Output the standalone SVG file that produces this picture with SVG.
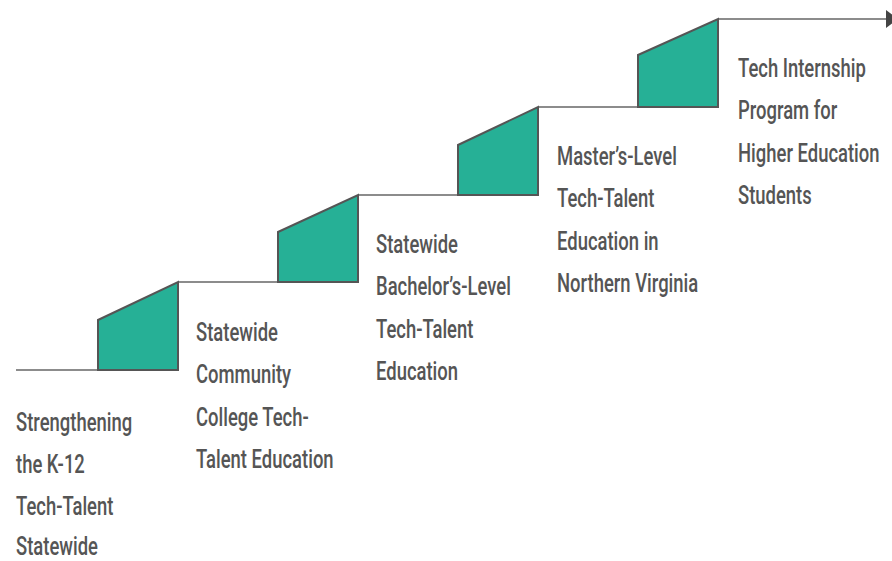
<svg xmlns="http://www.w3.org/2000/svg" width="892" height="561" viewBox="0 0 892 561">
<defs>
<style>
.step{fill:#26b096;stroke:#555;stroke-width:2;stroke-linejoin:miter}
.ln{fill:none;stroke:#666;stroke-width:1.6}
.lbl{font-family:Roboto,"Liberation Sans",sans-serif;font-size:26px;font-weight:500;fill:#555}
</style>
<marker id="arr" markerWidth="12" markerHeight="18" refX="0" refY="9" orient="auto" markerUnits="userSpaceOnUse">
<path d="M0,0 L12,9 L0,18 Z" fill="#444"/>
</marker>
</defs>
<rect width="892" height="561" fill="#fff"/>
<g id="connectors">
<path class="ln" d="M16,370 H98"/>
<path class="ln" d="M178,282 H278"/>
<path class="ln" d="M358,195 H458"/>
<path class="ln" d="M538,107 H638"/>
<path class="ln" d="M718,19 H886" marker-end="url(#arr)"/>
</g>
<g id="step1">
<polygon class="step" points="98,370 178,370 178,282 98,320"/>
<g transform="translate(16,0) scale(0.71,1)"><text class="lbl"><tspan x="0" y="431">Strengthening</tspan><tspan x="0" y="473">the K-12</tspan><tspan x="0" y="515">Tech-Talent</tspan><tspan x="0" y="555">Statewide</tspan></text></g>
</g>
<g id="step2">
<polygon class="step" points="278,282 358,282 358,195 278,232"/>
<g transform="translate(196,0) scale(0.71,1)"><text class="lbl"><tspan x="0" y="341">Statewide</tspan><tspan x="0" y="383">Community</tspan><tspan x="0" y="426">College Tech-</tspan><tspan x="0" y="468">Talent Education</tspan></text></g>
</g>
<g id="step3">
<polygon class="step" points="458,195 538,195 538,107 458,145"/>
<g transform="translate(376,0) scale(0.71,1)"><text class="lbl"><tspan x="0" y="253">Statewide</tspan><tspan x="0" y="295">Bachelor’s-Level</tspan><tspan x="0" y="338">Tech-Talent</tspan><tspan x="0" y="380">Education</tspan></text></g>
</g>
<g id="step4">
<polygon class="step" points="638,107 718,107 718,19 638,55"/>
<g transform="translate(557,0) scale(0.71,1)"><text class="lbl"><tspan x="0" y="165">Master’s-Level</tspan><tspan x="0" y="207">Tech-Talent</tspan><tspan x="0" y="250">Education in</tspan><tspan x="0" y="292">Northern Virginia</tspan></text></g>
</g>
<g id="step5">
<g transform="translate(738,0) scale(0.71,1)"><text class="lbl"><tspan x="0" y="77">Tech Internship</tspan><tspan x="0" y="119">Program for</tspan><tspan x="0" y="162">Higher Education</tspan><tspan x="0" y="204">Students</tspan></text></g>
</g>
</svg>
